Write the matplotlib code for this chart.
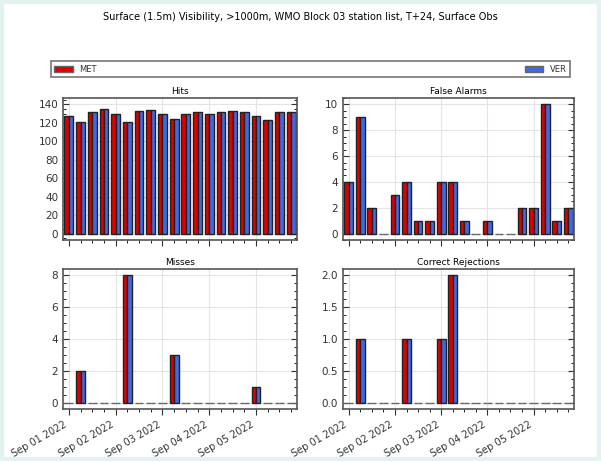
import numpy as np
import matplotlib
matplotlib.use("Agg")
from matplotlib import pyplot as plt
import matplotlib.dates as mdates
from matplotlib.patches import Rectangle

# 6-hourly validity times, Sep 01 00Z to Sep 05 18Z
times = np.arange(np.datetime64('2022-09-01T00'), np.datetime64('2022-09-06T00'),
                  np.timedelta64(6, 'h'))

hits_met = [128, 121, 132, 135, 130, 121, 133, 134, 130, 124,
            130, 132, 130, 132, 133, 132, 128, 123, 132, 132]
hits_ver = [128, 121, 132, 135, 130, 121, 133, 134, 130, 124,
            130, 132, 130, 132, 133, 132, 128, 123, 132, 132]
fa_met = [4, 9, 2, 0, 3, 4, 1, 1, 4, 4, 1, 0, 1, 0, 0, 2, 2, 10, 1, 2]
fa_ver = [4, 9, 2, 0, 3, 4, 1, 1, 4, 4, 1, 0, 1, 0, 0, 2, 2, 10, 1, 2]
miss_met = [0, 2, 0, 0, 0, 8, 0, 0, 0, 3, 0, 0, 0, 0, 0, 0, 1, 0, 0, 0]
miss_ver = [0, 2, 0, 0, 0, 8, 0, 0, 0, 3, 0, 0, 0, 0, 0, 0, 1, 0, 0, 0]
cr_met = [0, 1, 0, 0, 0, 1, 0, 0, 1, 2, 0, 0, 0, 0, 0, 0, 0, 0, 0, 0]
cr_ver = [0, 1, 0, 0, 0, 1, 0, 0, 1, 2, 0, 0, 0, 0, 0, 0, 0, 0, 0, 0]

panels = [
    ("Hits", hits_met, hits_ver, (-7, 147), [0, 20, 40, 60, 80, 100, 120, 140]),
    ("False Alarms", fa_met, fa_ver, (-0.5, 10.5), [0, 2, 4, 6, 8, 10]),
    ("Misses", miss_met, miss_ver, (-0.4, 8.4), [0, 2, 4, 6, 8]),
    ("Correct Rejections", cr_met, cr_ver, (-0.1, 2.1), [0.0, 0.5, 1.0, 1.5, 2.0]),
]

title = "Surface (1.5m) Visibility, >1000m, WMO Block 03 station list, T+24, Surface Obs"

fig = plt.figure(figsize=(6.01, 4.61), dpi=100)
fig.patch.set_facecolor('white')
# light teal frame round the picture
fig.patches.append(Rectangle((0, 0), 1, 1, transform=fig.transFigure, fill=False,
                             edgecolor='#e3f3f1', linewidth=6, zorder=0))

W, H = 601.0, 461.0
boxes = [(63, 98, 297, 240), (343, 98, 574, 240),
         (63, 269, 297, 409), (343, 269, 574, 409)]

x = mdates.date2num(times.astype('datetime64[s]').astype(object))
w = 0.095
xmin = x[0] - 0.125
xmax = x[-1] + 0.125

handles = None
for (name, met, ver, ylim, yticks), (l, t, r, b) in zip(panels, boxes):
    ax = fig.add_axes([l / W, 1 - b / H, (r - l) / W, (b - t) / H])
    ax.grid(True, color='#e4e4e4', linewidth=0.8)
    ax.set_axisbelow(True)
    b1 = ax.bar(x - w / 2, met, width=w, color='#e00000', edgecolor='#222222',
                linewidth=1.0, label='MET')
    b2 = ax.bar(x + w / 2, ver, width=w, color='#4169e1', edgecolor='#222222',
                linewidth=1.0, label='VER')
    # zero-height bars show as grey dashes
    for bars in (b1, b2):
        for rect, v in zip(bars, met):
            if v == 0:
                rect.set_edgecolor('#666666')
    handles = (b1, b2)
    ax.set_xlim(xmin, xmax)
    ax.set_ylim(*ylim)
    ax.set_yticks(yticks)
    ax.set_title(name, fontsize=6.5, pad=3)
    ax.xaxis.set_major_locator(mdates.DayLocator())
    ax.xaxis.set_minor_locator(mdates.HourLocator(byhour=[6, 12, 18]))
    ax.xaxis.set_major_formatter(mdates.DateFormatter('%b %d %Y'))
    ax.yaxis.set_minor_locator(matplotlib.ticker.AutoMinorLocator(4))
    ax.tick_params(axis='both', labelsize=7.5, colors='#333333', length=4, width=0.8)
    ax.tick_params(axis='x', labelsize=7)
    ax.tick_params(axis='y', which='both', right=True, direction='in')
    ax.tick_params(axis='y', which='minor', length=2)
    ax.tick_params(axis='x', which='minor', length=2)
    for s in ax.spines.values():
        s.set_color('#555555')
        s.set_linewidth(1.2)
    if t < 200:
        ax.tick_params(axis='x', labelbottom=False)
    else:
        plt.setp(ax.get_xticklabels(), rotation=30, ha='right')

fig.text(0.5, 1 - 16.5 / H, title, ha='center', va='center', fontsize=7)

leg = fig.legend(handles, ['MET', 'VER'], loc='lower left',
                 bbox_to_anchor=(51 / W, 1 - 77 / H, (570 - 51) / W, 18 / H),
                 mode='expand', ncol=2, fontsize=6, fancybox=False,
                 borderaxespad=0, handlelength=2.2, handleheight=0.7,
                 borderpad=0.4)
leg.get_frame().set_edgecolor('#555555')
leg.get_frame().set_linewidth(1.2)
for txt in leg.get_texts():
    txt.set_color('#333333')

fig.savefig('out.png', dpi=100)
